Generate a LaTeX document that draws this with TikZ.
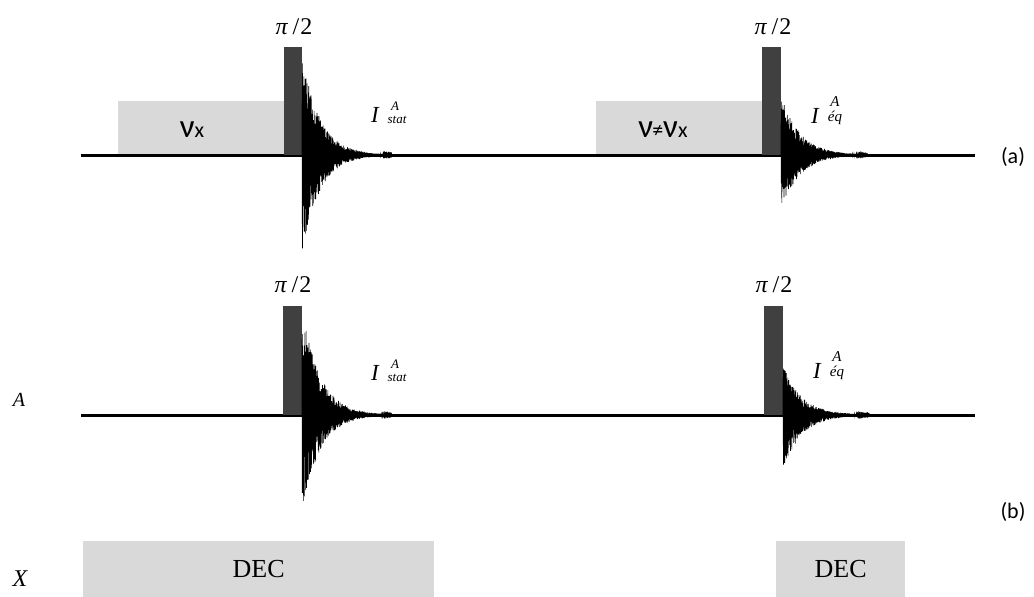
\documentclass[tikz,border=0pt]{standalone}
\usepackage{fontspec}
\setmainfont{Liberation Serif}
\newfontfamily\carl{Carlito}
\definecolor{pulsegray}{HTML}{404040}
\definecolor{boxgray}{HTML}{D9D9D9}
\tikzset{
  baseline line/.style={line width=3pt, black},
  pulsebox/.style={fill=pulsegray},
  satbox/.style={fill=boxgray},
  fidline/.style={line width=0.6pt, black, line join=miter},
  lbl/.style={inner sep=0pt, font=\fontsize{24}{26}\selectfont},
  bigI/.style={inner sep=0pt, anchor=base west, font=\fontsize{23}{24}\selectfont\itshape},
  smallsc/.style={inner sep=0pt, anchor=base, font=\fontsize{13}{14}\selectfont\itshape},
  midsc/.style={inner sep=0pt, anchor=base, font=\fontsize{15}{16}\selectfont\itshape},
}
\newcommand\fidtrace[6]{%
  \draw[fidline] (#1,#2) foreach \i in {0,...,#6}{
    -- ({#1+0.32*\i},{#2-(#3)*exp(-0.32*\i/(#5))*(0.45+0.55*rnd)})
    -- ({#1+0.32*\i+0.16},{#2+(#4)*exp(-(0.32*\i+0.16)/(#5))*(0.45+0.55*rnd)}) };
}
\newcommand\pihalf{{\itshape π}\kern5pt/\kern1pt 2}
\begin{document}
\begin{tikzpicture}[x=1pt,y=-1pt]
\useasboundingbox (0,0) rectangle (1034,597);
\pgfmathsetseed{7}
% ---------- panel (a) ----------
\fill[satbox] (118,101) rectangle (284,155);
\fill[satbox] (596,101) rectangle (762,155);
\draw[baseline line] (81,155) -- (975,155);
\fill[pulsebox] (284,47) rectangle (302,155);
\fill[pulsebox] (762,47) rectangle (781,155);
\fidtrace{302}{155}{100}{98}{18}{280}
\fidtrace{781}{155}{60}{55}{19}{270}
\node[lbl] (pa1) at (294,27) {\pihalf};
\node[lbl] (pa2) at (773,27) {\pihalf};
\node[inner sep=0pt, anchor=base] (nux) at (192,137)
  {\carl\fontsize{33}{34}\selectfont ν\fontsize{22}{22}\selectfont x};
\node[inner sep=0pt, anchor=base] (nunx) at (663,137)
  {\carl\fontsize{33}{34}\selectfont ν\kern-1pt{\fontsize{22}{22}\selectfont ≠}ν\fontsize{22}{22}\selectfont x};
\node[bigI] (ista) at (371,122) {I};
\node[smallsc] (ista sup) at (395,110) {A};
\node[smallsc] (ista sub) at (397,123) {stat};
\node[bigI] (ieqa) at (811,123) {I};
\node[midsc] (ieqa sup) at (835,106) {A};
\node[midsc] (ieqa sub) at (835,121) {éq};
\node[inner sep=0pt, font=\carl\fontsize{22}{24}\selectfont] (lab a) at (1013,157) {(a)};
% ---------- panel (b) ----------
\draw[baseline line] (81,415) -- (975,415);
\fill[pulsebox] (283,306) rectangle (302,415);
\fill[pulsebox] (764,306) rectangle (783,415);
\fidtrace{302}{415}{109}{97}{18}{280}
\fidtrace{783}{415}{50}{55}{19}{270}
\node[lbl] (pb1) at (293,285) {\pihalf};
\node[lbl] (pb2) at (774,285) {\pihalf};
\node[bigI] (istb) at (371,380) {I};
\node[smallsc] (istb sup) at (395,368) {A};
\node[smallsc] (istb sub) at (397,381) {stat};
\node[bigI] (ieqb) at (813,378) {I};
\node[midsc] (ieqb sup) at (837,361) {A};
\node[midsc] (ieqb sub) at (837,376) {éq};
\node[inner sep=0pt, font=\carl\fontsize{22}{24}\selectfont] (lab b) at (1013,512) {(b)};
\node[inner sep=0pt, font=\fontsize{20}{22}\selectfont\itshape] (chA) at (19,400) {A};
% ---------- decoupling ----------
\node[satbox, minimum width=351pt, minimum height=56pt, inner sep=0pt, anchor=north west,
  font=\fontsize{26}{28}\selectfont] (dec1) at (83,541) {DEC};
\node[satbox, minimum width=129pt, minimum height=56pt, inner sep=0pt, anchor=north west,
  font=\fontsize{26}{28}\selectfont] (dec2) at (776,541) {DEC};
\node[inner sep=0pt, font=\fontsize{24}{26}\selectfont\itshape] (chX) at (20,579) {X};
\end{tikzpicture}
\end{document}
